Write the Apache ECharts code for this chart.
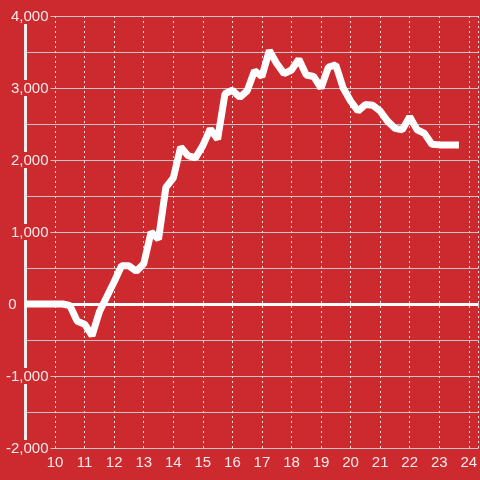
<!DOCTYPE html>
<html>
<head>
<meta charset="utf-8">
<script src="https://cdn.jsdelivr.net/npm/echarts@6/dist/echarts.min.js"></script>
<style>
html,body{margin:0;padding:0;background:#CC2A2F;}
#chart{width:480px;height:480px;}
</style>
</head>
<body>
<div id="chart"></div>
<script>
// hours of day (decimal)
var times = [9, 9.25, 9.5, 9.75, 10, 10.25, 10.5, 10.75, 11, 11.25, 11.5, 11.75,
  12, 12.25, 12.5, 12.75, 13, 13.25, 13.5, 13.75, 14, 14.25, 14.5, 14.75,
  15, 15.25, 15.5, 15.75, 16, 16.25, 16.5, 16.75, 17, 17.25, 17.5, 17.75,
  18, 18.25, 18.5, 18.75, 19, 19.25, 19.5, 19.75, 20, 20.25, 20.5, 20.75,
  21, 21.25, 21.5, 21.75, 22, 22.25, 22.5, 22.75, 23, 23.25, 23.5, 23.6667];
var values = [0, 0, 0, 0, 0, 0, -20, -240, -280, -440, -107, 100,
  310, 530, 530, 455, 560, 1000, 900, 1620, 1750, 2180, 2060, 2030,
  2200, 2430, 2290, 2920, 2970, 2870, 2960, 3240, 3160, 3520, 3340, 3200,
  3250, 3400, 3180, 3160, 3000, 3290, 3320, 3000, 2820, 2680, 2770, 2760,
  2680, 2540, 2440, 2420, 2600, 2420, 2370, 2220, 2210, 2210, 2210, 2210];
var xTicks = [10, 11, 12, 13, 14, 15, 16, 17, 18, 19, 20, 21, 22, 23, 24];
var yTicks = [-2000, -1000, 0, 1000, 2000, 3000, 4000];

var red = '#CC2A2F';
var data = times.map(function (t, i) { return [t, values[i]]; });

var chart = echarts.init(document.getElementById('chart'), null, {renderer: 'canvas'});
chart.setOption({
  backgroundColor: red,
  animation: false,
  grid: {left: 20, right: 0, top: 16, bottom: 32, containLabel: false},
  xAxis: {
    type: 'value',
    min: 9,
    max: 24.3333,
    interval: 1,
    axisLine: {show: false},
    axisTick: {show: false},
    axisLabel: {
      showMinLabel: false,
      showMaxLabel: false,
      color: '#f4eaea',
      fontFamily: 'Liberation Sans, Arial, sans-serif',
      fontSize: 15,
      margin: 7,
      formatter: function (v) { return xTicks.indexOf(v) >= 0 ? String(v) : ''; }
    },
    splitLine: {show: true, lineStyle: {color: '#e8dede', type: [2, 3], width: 1}}
  },
  yAxis: {
    type: 'value',
    min: yTicks[0],
    max: yTicks[yTicks.length - 1],
    interval: 1000,
    axisLine: {show: true, lineStyle: {color: '#f2eeee', width: 3}},
    axisTick: {show: false},
    axisLabel: {
      color: '#f4eaea',
      fontFamily: 'Liberation Sans, Arial, sans-serif',
      fontSize: 15,
      margin: -25,
      align: 'right',
      formatter: function (v) {
        if (v === 0) { return '{z|0}'; }
        return '{a|' + v.toLocaleString('en-US') + '}';
      },
      rich: {
        a: {
          color: '#f4eaea',
          fontFamily: 'Liberation Sans, Arial, sans-serif',
          fontSize: 15,
          backgroundColor: red,
          padding: [1, 2, 0, 3]
        },
        z: {
          color: '#f4eaea',
          fontFamily: 'Liberation Sans, Arial, sans-serif',
          fontSize: 15,
          padding: [1, 34, 0, 0]
        }
      }
    },
    splitLine: {show: true, lineStyle: {color: '#c9c3c3', width: 1}},
    minorTick: {show: false, splitNumber: 2},
    minorSplitLine: {show: true, lineStyle: {color: '#c9c3c3', width: 1}}
  },
  series: [{
    type: 'line',
    data: data,
    showSymbol: false,
    symbol: 'none',
    lineStyle: {color: '#ffffff', width: 7},
    z: 5,
    markLine: {
      silent: true,
      symbol: ['none', 'none'],
      label: {show: false},
      lineStyle: {color: '#ffffff', width: 3, type: 'solid'},
      data: [{yAxis: 0}]
    }
  }]
});
</script>
</body>
</html>
